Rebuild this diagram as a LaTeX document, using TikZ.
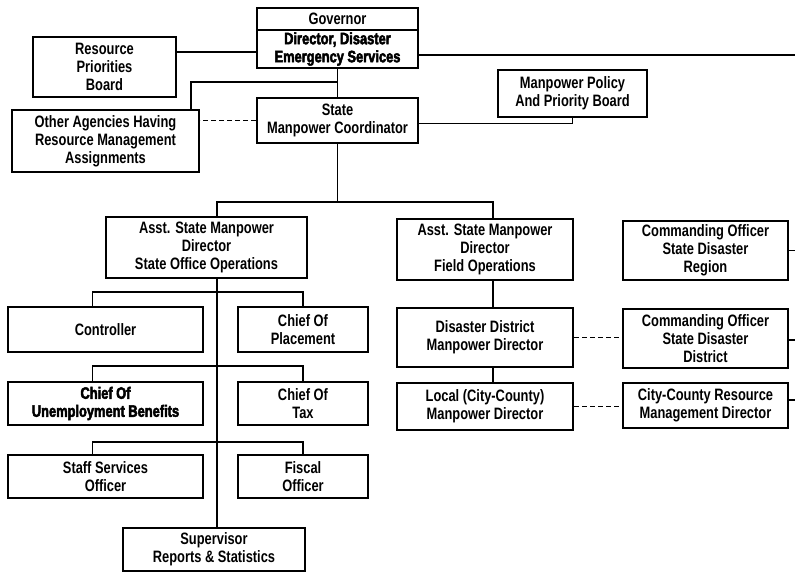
\documentclass[tikz,border=0pt]{standalone}
\usepackage{fontspec}
\setmainfont{Liberation Sans}[FakeStretch=0.78]
\newfontfamily\heavyfont{Liberation Sans}[FakeStretch=0.78, BoldFeatures={FakeBold=3}]

\begin{document}
\begin{tikzpicture}[x=1pt, y=-1pt,
    unit/.style={draw, line width=2pt, align=center, inner sep=1pt,
        font=\fontsize{16.5}{18}\selectfont\bfseries},
    heavy/.style={font=\fontsize{16.5}{18}\selectfont\heavyfont\bfseries},
    link/.style={line width=1.8pt},
    staff link/.style={link, dash pattern=on 5pt off 3pt}]
\useasboundingbox (0,0) rectangle (795,573);
\coordinate (edge) at (795,0);
% top of the chart
\node[unit, minimum width=161pt, minimum height=22pt] (gov) at (337.5,19) {Governor};
\node[unit, heavy, minimum width=161pt, minimum height=38pt] (dir) at (337.5,49) {Director, Disaster\\Emergency Services};
\node[unit, minimum width=143pt, minimum height=60pt] (rpb) at (104.5,67) {Resource\\Priorities\\Board};
\node[unit, minimum width=149pt, minimum height=47pt] (mppb) at (572.5,93.5) {Manpower Policy\\And Priority Board};
\node[unit, minimum width=187pt, minimum height=62pt] (other) at (105.5,141) {Other Agencies Having\\Resource Management\\Assignments};
\node[unit, minimum width=161pt, minimum height=45pt] (smc) at (337.5,120.5) {State\\Manpower Coordinator};
% assistant directors
\node[unit, minimum width=201pt, minimum height=61pt] (aso) at (206.5,247.5) {Asst. State Manpower\\Director\\State Office Operations};
\node[unit, minimum width=176pt, minimum height=61pt] (afo) at (485,249.5) {Asst. State Manpower\\Director\\Field Operations};
\node[unit, minimum width=165pt, minimum height=59pt] (cor) at (705.5,250.5) {Commanding Officer\\State Disaster\\Region};
% state office
\node[unit, minimum width=195pt, minimum height=45pt] (ctrl) at (105.5,329.5) {Controller};
\node[unit, minimum width=130pt, minimum height=45pt] (place) at (303,329.5) {Chief Of\\Placement};
\node[unit, heavy, minimum width=195pt, minimum height=43pt] (ub) at (105.5,403.5) {Chief Of\\Unemployment Benefits};
\node[unit, minimum width=130pt, minimum height=43pt] (tax) at (303,403.5) {Chief Of\\Tax};
\node[unit, minimum width=195pt, minimum height=43pt] (staff) at (105.5,476.5) {Staff Services\\Officer};
\node[unit, minimum width=130pt, minimum height=43pt] (fiscal) at (303,476.5) {Fiscal\\Officer};
\node[unit, minimum width=182pt, minimum height=43pt] (super) at (214,549.5) {Supervisor\\Reports \& Statistics};
% field
\node[unit, minimum width=176pt, minimum height=59pt] (ddmd) at (485,337.5) {Disaster District\\Manpower Director};
\node[unit, minimum width=165pt, minimum height=59pt] (cod) at (705.5,338.5) {Commanding Officer\\State Disaster\\District};
\node[unit, minimum width=176pt, minimum height=47pt] (local) at (485,406.5) {Local (City-County)\\Manpower Director};
\node[unit, minimum width=165pt, minimum height=45pt] (ccrm) at (705.5,405.5) {City-County Resource\\Management Director};

% lines
\draw[link] ([yshift=-6pt]dir.east) -- ([yshift=-6pt]dir.east -| edge);
\draw[link] ([yshift=-3pt]dir.west) -- ([yshift=-3pt]dir.west -| rpb.east);
\draw[link] (dir.south) -- (smc.north);
\coordinate (j1) at (337.5,82);
\draw[link] (j1) -| ([xshift=-9pt]other.north east);
\draw[staff link] (smc.west) -- (smc.west -| other.east);
\draw[link] ([yshift=-3pt]smc.east) -| (mppb.south);
\coordinate (bus) at (337.5,202);
\draw[link] (smc.south) -- (bus);
\draw[link] (bus) -| ([xshift=10.5pt]aso.north);
\draw[link] (bus) -| ([xshift=8pt]afo.north);
\draw[link] ([xshift=10.5pt]aso.south) -- ([xshift=10.5pt]aso.south |- super.north);
\foreach \l/\r/\y in {ctrl/place/292, ub/tax/366, staff/fiscal/442}
    \draw[link] ([xshift=-13pt]\l.north) |- (\r.north |- 0,\y) -- (\r.north);
\draw[link] ([xshift=8pt]afo.south) -- ([xshift=8pt]ddmd.north);
\draw[link] ([xshift=8pt]ddmd.south) -- ([xshift=8pt]local.north);
\draw[staff link] (ddmd.east) -- (ddmd.east -| cod.west);
\draw[staff link] (local.east) -- (local.east -| ccrm.west);
\foreach \n/\s in {cor/0, cod/-1.5, ccrm/5.5}
    \draw[link] ([yshift=\s pt]\n.east) -- ([yshift=\s pt]\n.east -| edge);
\end{tikzpicture}
\end{document}
